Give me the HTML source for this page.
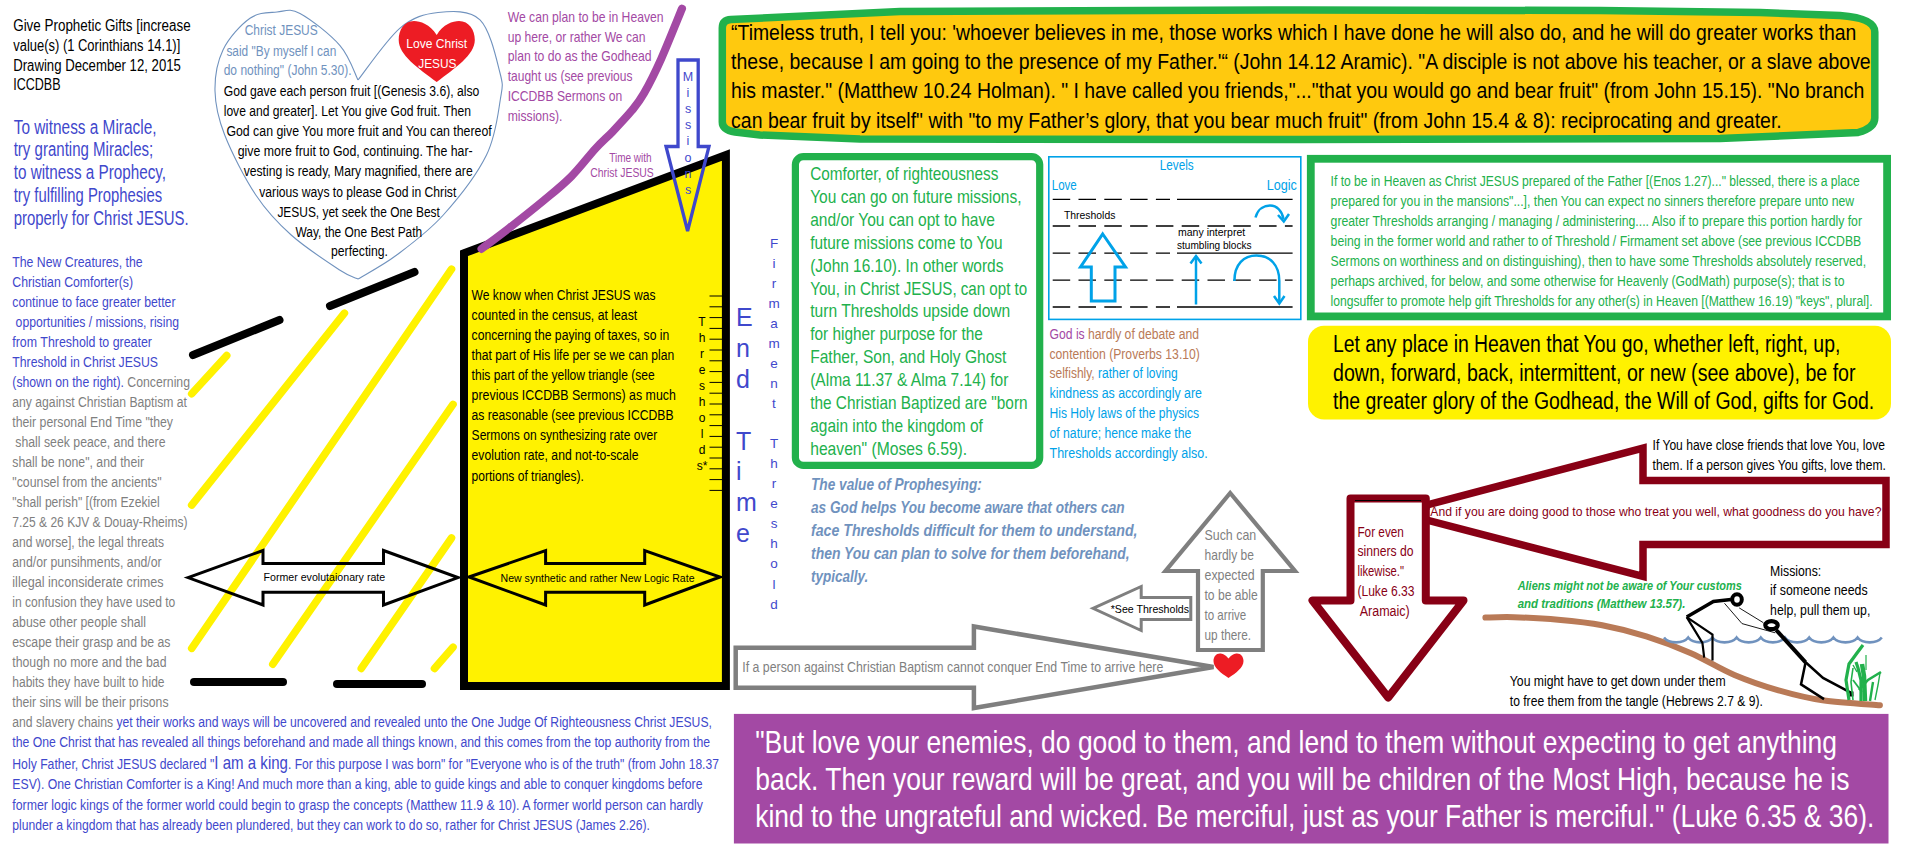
<!DOCTYPE html>
<html><head><meta charset="utf-8"><style>
html,body{margin:0;padding:0;background:#fff;width:1906px;height:868px;overflow:hidden}
text{font-family:"Liberation Sans",sans-serif}
</style></head><body>
<svg width="1906" height="868" viewBox="0 0 1906 868" style="position:absolute;left:0;top:0"><path d="M358.0,80.0 C355.0,74.3 349.7,56.7 340.0,45.6 C330.3,34.5 310.5,19.0 300.0,13.4 C289.5,7.8 285.3,11.2 277.0,12.0 C268.7,12.8 259.0,12.0 250.0,18.3 C241.0,24.6 228.8,37.9 223.0,50.0 C217.2,62.1 214.7,76.8 215.0,91.0 C215.3,105.2 217.9,117.7 224.7,135.0 C231.5,152.3 244.7,178.3 255.8,195.0 C266.9,211.7 277.2,222.5 291.2,235.0 C305.2,247.5 328.5,262.7 339.6,270.0 C350.7,277.3 354.9,277.5 358.0,279.0" fill="none" stroke="#7092be" stroke-width="1.1"/><path d="M358.0,80.0 C365.0,71.3 386.7,39.4 400.0,28.1 C413.3,16.9 424.7,13.9 438.0,12.5 C451.3,11.1 469.7,9.7 480.0,19.8 C490.3,29.9 496.6,59.8 500.0,73.0 C503.4,86.2 502.6,85.3 500.4,99.0 C498.1,112.7 496.0,135.7 486.5,155.0 C477.0,174.3 458.3,198.3 443.3,215.0 C428.3,231.7 410.9,244.3 396.7,255.0 C382.5,265.7 364.4,275.0 358.0,279.0" fill="none" stroke="#7092be" stroke-width="1.1"/><path d="M436.7,35 C430,24 420,21 414,21 C404,21 398.7,30 398.7,40 C398.7,55 418,68 436.7,82 C455,68 474.8,55 474.8,40 C474.8,30 469,21 459,21 C453,21 443,24 436.7,35 Z" fill="#ed1c24"/><line x1="191.7" y1="393.8" x2="226.7" y2="355.6" stroke="#fff200" stroke-width="7.6" stroke-linecap="round"/><line x1="191.7" y1="505.1" x2="344.4" y2="313.2" stroke="#fff200" stroke-width="7.6" stroke-linecap="round"/><line x1="191.7" y1="648.3" x2="451.5" y2="269.2" stroke="#fff200" stroke-width="7.6" stroke-linecap="round"/><line x1="272.8" y1="664.2" x2="453.0" y2="404.4" stroke="#fff200" stroke-width="7.6" stroke-linecap="round"/><line x1="361.3" y1="668.4" x2="451.5" y2="538.0" stroke="#fff200" stroke-width="7.6" stroke-linecap="round"/><line x1="434.5" y1="668.4" x2="453.0" y2="647.2" stroke="#fff200" stroke-width="7.6" stroke-linecap="round"/><line x1="193.0" y1="355.0" x2="279.5" y2="320.0" stroke="#000" stroke-width="8" stroke-linecap="round"/><line x1="330.0" y1="306.0" x2="414.5" y2="272.0" stroke="#000" stroke-width="8" stroke-linecap="round"/><line x1="194.0" y1="682.0" x2="283.0" y2="682.0" stroke="#000" stroke-width="8" stroke-linecap="round"/><line x1="337.0" y1="684.0" x2="422.0" y2="684.0" stroke="#000" stroke-width="8" stroke-linecap="round"/><path d="M464,253.3 L725.9,155 L725.9,686 L464,686 Z" fill="#fff200" stroke="#000" stroke-width="8" stroke-linejoin="miter"/><path d="M682.0,8.6 C678.5,17.0 667.5,44.7 661.2,58.8 C654.9,72.9 648.9,84.7 644.0,93.3 C639.1,101.9 637.0,104.2 631.8,110.6 C626.6,116.9 618.8,125.1 612.8,131.4 C606.8,137.7 602.4,141.1 595.5,148.6 C588.6,156.1 580.0,167.7 571.4,176.3 C562.8,185.0 554.1,191.9 543.7,200.5 C533.3,209.1 519.5,220.0 509.1,228.1 C498.7,236.2 486.1,245.4 481.5,248.9" fill="none" stroke="#a349a4" stroke-width="8" stroke-linecap="round"/><path d="M678,60 L698.2,60 L698.2,146.5 L709,146.5 L687.6,231 L666,146.5 L678,146.5 Z" fill="none" stroke="#3f48cc" stroke-width="3.3" stroke-linejoin="miter"/><line x1="709.5" y1="296.0" x2="722" y2="296.0" stroke="#000" stroke-width="1"/><line x1="709.5" y1="306.8" x2="722" y2="306.8" stroke="#000" stroke-width="1"/><line x1="709.5" y1="317.6" x2="722" y2="317.6" stroke="#000" stroke-width="1"/><line x1="709.5" y1="328.4" x2="722" y2="328.4" stroke="#000" stroke-width="1"/><line x1="709.5" y1="339.2" x2="722" y2="339.2" stroke="#000" stroke-width="1"/><line x1="709.5" y1="350.0" x2="722" y2="350.0" stroke="#000" stroke-width="1"/><line x1="709.5" y1="360.8" x2="722" y2="360.8" stroke="#000" stroke-width="1"/><line x1="709.5" y1="371.6" x2="722" y2="371.6" stroke="#000" stroke-width="1"/><line x1="709.5" y1="382.4" x2="722" y2="382.4" stroke="#000" stroke-width="1"/><line x1="709.5" y1="393.2" x2="722" y2="393.2" stroke="#000" stroke-width="1"/><line x1="709.5" y1="404.0" x2="722" y2="404.0" stroke="#000" stroke-width="1"/><line x1="709.5" y1="414.8" x2="722" y2="414.8" stroke="#000" stroke-width="1"/><line x1="709.5" y1="425.6" x2="722" y2="425.6" stroke="#000" stroke-width="1"/><line x1="709.5" y1="436.4" x2="722" y2="436.4" stroke="#000" stroke-width="1"/><line x1="709.5" y1="447.2" x2="722" y2="447.2" stroke="#000" stroke-width="1"/><line x1="709.5" y1="458.0" x2="722" y2="458.0" stroke="#000" stroke-width="1"/><line x1="709.5" y1="468.8" x2="722" y2="468.8" stroke="#000" stroke-width="1"/><line x1="709.5" y1="479.6" x2="722" y2="479.6" stroke="#000" stroke-width="1"/><line x1="709.5" y1="490.4" x2="722" y2="490.4" stroke="#000" stroke-width="1"/><path d="M188.0,577.6 L263.0,550.5 L263.0,563.5 L383.5,563.5 L383.5,550.5 L458.0,577.6 L383.5,605.0 L383.5,592.3 L263.0,592.3 L263.0,605.0 Z" fill="none" stroke="#000" stroke-width="3" stroke-linejoin="miter"/><path d="M469.0,577.0 L545.6,550.5 L545.6,563.5 L644.7,563.5 L644.7,550.5 L720.0,577.0 L644.7,605.0 L644.7,592.3 L545.6,592.3 L545.6,605.0 Z" fill="none" stroke="#000" stroke-width="3" stroke-linejoin="miter"/><path d="M722.3,28 Q722.3,20 731,19.5 L900,11.5 L1300,10 L1600,10.5 L1760,12.5 L1840,15.5 Q1874.8,18 1874.8,32 L1874.8,118 Q1874.8,128 1858,132.5 L1720,138.5 L1300,139.5 L860,139 L760,135 L735,132 Q722.3,130 722.3,122 Z" fill="#ffc90e" stroke="#22b14c" stroke-width="7.5"/><rect x="795.4" y="156.6" width="244.3" height="308.8" rx="8" fill="#fff" stroke="#22b14c" stroke-width="7.2"/><rect x="1048.8" y="156.8" width="252" height="162.6" fill="none" stroke="#00a2e8" stroke-width="1.6"/><line x1="1052.7" y1="199.3" x2="1170" y2="199.3" stroke="#000" stroke-width="1.3" stroke-dasharray="17.5 8.3"/><line x1="1177" y1="199.3" x2="1292.6" y2="199.3" stroke="#000" stroke-width="1.3"/><line x1="1052.7" y1="226.0" x2="1292.6" y2="226.0" stroke="#000" stroke-width="1.3" stroke-dasharray="17.5 8.3"/><line x1="1052.7" y1="253.2" x2="1170" y2="253.2" stroke="#000" stroke-width="1.3" stroke-dasharray="17.5 8.3"/><line x1="1177" y1="253.2" x2="1292.6" y2="253.2" stroke="#000" stroke-width="1.3"/><line x1="1052.7" y1="280.2" x2="1292.6" y2="280.2" stroke="#000" stroke-width="1.3" stroke-dasharray="17.5 8.3"/><line x1="1052.7" y1="307.0" x2="1170" y2="307.0" stroke="#000" stroke-width="1.3" stroke-dasharray="17.5 8.3"/><line x1="1177" y1="307.0" x2="1292.6" y2="307.0" stroke="#000" stroke-width="1.3"/><path d="M1102.7,234 L1125.5,267 L1115,267 L1115,301 L1091.3,301 L1091.3,267 L1080.5,267 Z" fill="none" stroke="#00a2e8" stroke-width="3"/><line x1="1196" y1="304.5" x2="1196" y2="257" stroke="#00a2e8" stroke-width="2.5"/><path d="M1190.5,263.5 L1196,256 L1201.5,263.5" fill="none" stroke="#00a2e8" stroke-width="2.5"/><path d="M1255.5,217.5 C1258,208 1265,205.5 1270,205.5 C1277,205.5 1282,211 1283.5,219" fill="none" stroke="#00a2e8" stroke-width="2.5"/><path d="M1278,215 L1283.8,221.5 L1289,214" fill="none" stroke="#00a2e8" stroke-width="2.5"/><path d="M1234.4,281 C1234.4,264 1244,255.5 1256.5,255.5 C1270,255.5 1279.3,265 1279.3,281 L1279.3,302" fill="none" stroke="#00a2e8" stroke-width="2.5"/><path d="M1274,296 L1279.3,303.5 L1284.5,296" fill="none" stroke="#00a2e8" stroke-width="2.5"/><rect x="1310.8" y="158.8" width="576.3" height="157.6" fill="#fff" stroke="#22b14c" stroke-width="7.8"/><rect x="1308" y="325.8" width="583" height="93.6" rx="16" fill="#fff200"/><path d="M735.7,647.8 L973.9,647.8 L973.9,626.5 L1213.5,667 L973.9,708 L973.9,687.7 L735.7,687.7 Z" fill="none" stroke="#7f7f7f" stroke-width="4.5" stroke-linejoin="miter"/><path d="M1230.2,493 L1295,571 L1262.8,571 L1262.8,650 L1198,650 L1198,571 L1165.5,571 Z" fill="none" stroke="#7f7f7f" stroke-width="4.2" stroke-linejoin="miter"/><path d="M1093,608.3 L1141.2,586.5 L1141.2,597.5 L1190.8,597.5 L1190.8,619.5 L1141.2,619.5 L1141.2,630.5 Z" fill="none" stroke="#7f7f7f" stroke-width="3" stroke-linejoin="miter"/><path d="M1228.5,658.5 C1225.5,654.5 1222,653.5 1220,653.5 C1216,653.5 1213.5,657 1213.5,661 C1213.5,667.5 1221,673 1228.5,678 C1236,673 1243.5,667.5 1243.5,661 C1243.5,657 1241,653.5 1237,653.5 C1235,653.5 1231.5,654.5 1228.5,658.5 Z" fill="#ed1c24"/><path d="M1398,512.6 L1643,448 L1643,480.5 L1886,480.5 L1886,544.5 L1643,544.5 L1643,576.5 Z" fill="none" stroke="#880015" stroke-width="7.5" stroke-linejoin="miter"/><path d="M1350.5,498.5 L1425.8,498.5 L1425.8,600.5 L1463.5,600.5 L1388.2,697.5 L1312.5,600.5 L1350.5,600.5 Z" fill="#fff" stroke="#880015" stroke-width="8" stroke-linejoin="round"/><line x1="1355" y1="500.5" x2="1421" y2="500.5" stroke="#000" stroke-width="1"/><path d="M1485.4,617.6 C1490.2,617.5 1501.9,616.8 1514.0,617.2 C1526.1,617.6 1543.4,618.4 1558.1,619.8 C1572.8,621.1 1587.5,622.5 1602.2,625.3 C1616.9,628.1 1631.6,631.8 1646.3,636.4 C1661.0,641.0 1675.7,646.5 1690.4,652.9 C1705.1,659.3 1719.7,668.7 1734.4,674.9 C1749.1,681.1 1763.8,686.1 1778.5,690.3 C1793.2,694.5 1805.7,697.8 1822.6,700.3 C1839.5,702.8 1870.4,704.5 1879.9,705.3" fill="none" stroke="#b97a57" stroke-width="6" stroke-linecap="round"/><path d="M1664,637.5 C1669.0,644 1683.2,644 1688.2,637.5 C1693.2,644 1707.4,644 1712.4,637.5 C1717.4,644 1731.6,644 1736.6,637.5 C1741.6,644 1755.8,644 1760.8,637.5 C1765.8,644 1780.0,644 1785.0,637.5 C1790.0,644 1804.2,644 1809.2,637.5 C1814.2,644 1828.4,644 1833.4,637.5 C1838.4,644 1852.6,644 1857.6,637.5 C1862.6,644 1876.8,644 1881.8,637.5" fill="none" stroke="#7092be" stroke-width="2.6"/><ellipse cx="1737" cy="599.5" rx="4.8" ry="5.2" fill="none" stroke="#000" stroke-width="4"/><polyline points="1731,599.6 1713.4,601.5 1686.7,617.1" fill="none" stroke="#000" stroke-width="3.5"/><polyline points="1686.7,617.1 1702.4,642.9 1704.2,657.7" fill="none" stroke="#000" stroke-width="2.2"/><polyline points="1686.7,617.1 1712.5,634.6 1712.5,660.4" fill="none" stroke="#000" stroke-width="2.2"/><polyline points="1724.5,603.3 1742,623.6 1775.2,632.8" fill="none" stroke="#000" stroke-width="0.9"/><polyline points="1739.2,607.9 1763.2,622.6" fill="none" stroke="#000" stroke-width="0.9"/><ellipse cx="1771.5" cy="625.2" rx="6.2" ry="4" fill="none" stroke="#000" stroke-width="4.2"/><polyline points="1776.1,630 1805.6,662.3" fill="none" stroke="#000" stroke-width="4"/><polyline points="1805.6,662.3 1823,677.9 1850.7,692.7" fill="none" stroke="#000" stroke-width="2.5"/><polyline points="1805.6,662.3 1801,684.4 1824,699.1" fill="none" stroke="#000" stroke-width="2.5"/><rect x="1849.5" y="691.5" width="4" height="5" fill="#000"/><polyline points="1849,700 1846,680 1849,664 1857,653 1863,645" fill="none" stroke="#22b14c" stroke-width="3.2"/><polyline points="1853,700 1851,682 1853,668" fill="none" stroke="#22b14c" stroke-width="1.6"/><polyline points="1861,701 1861,680 1858,668 1856,662" fill="none" stroke="#22b14c" stroke-width="3.2"/><polyline points="1865,701 1864,676 1862,664" fill="none" stroke="#22b14c" stroke-width="4.5"/><polyline points="1859,690 1868,680 1881,672" fill="none" stroke="#22b14c" stroke-width="2.6"/><polyline points="1870,701 1873,682" fill="none" stroke="#22b14c" stroke-width="2.4"/><polyline points="1875,700 1878,685 1880,673" fill="none" stroke="#22b14c" stroke-width="1.4"/><polyline points="1862,692 1853,680" fill="none" stroke="#22b14c" stroke-width="1.8"/><polyline points="1866,670 1866,655" fill="none" stroke="#22b14c" stroke-width="1.2"/><polyline points="1857,672 1853,665" fill="none" stroke="#22b14c" stroke-width="1.4"/><rect x="733.9" y="713.9" width="1154.6" height="129.6" fill="#a349a4"/><g font-family="Liberation Sans, sans-serif"><text x="13.2" y="30.5" font-size="15.60" fill="#000" textLength="177.5" lengthAdjust="spacingAndGlyphs">Give Prophetic Gifts [increase</text><text x="13.2" y="50.6" font-size="15.60" fill="#000" textLength="167.1" lengthAdjust="spacingAndGlyphs">value(s) (1 Corinthians 14.1)]</text><text x="13.2" y="70.5" font-size="15.60" fill="#000" textLength="167.7" lengthAdjust="spacingAndGlyphs">Drawing December 12, 2015</text><text x="13.2" y="90.4" font-size="15.60" fill="#000" textLength="47.3" lengthAdjust="spacingAndGlyphs">ICCDBB</text><text x="13.7" y="133.5" font-size="19.50" fill="#3f48cc" textLength="142.8" lengthAdjust="spacingAndGlyphs">To witness a Miracle,</text><text x="13.7" y="156.4" font-size="19.50" fill="#3f48cc" textLength="139.5" lengthAdjust="spacingAndGlyphs">try granting Miracles;</text><text x="13.7" y="179.3" font-size="19.50" fill="#3f48cc" textLength="152.4" lengthAdjust="spacingAndGlyphs">to witness a Prophecy,</text><text x="13.7" y="202.2" font-size="19.50" fill="#3f48cc" textLength="148.4" lengthAdjust="spacingAndGlyphs">try fulfilling Prophesies</text><text x="13.7" y="225.1" font-size="19.50" fill="#3f48cc" textLength="175.0" lengthAdjust="spacingAndGlyphs">properly for Christ JESUS.</text><text x="12.3" y="266.6" font-size="15.10" fill="#3f48cc" textLength="130.3" lengthAdjust="spacingAndGlyphs">The New Creatures, the</text><text x="12.3" y="286.6" font-size="15.10" fill="#3f48cc" textLength="120.7" lengthAdjust="spacingAndGlyphs">Christian Comforter(s)</text><text x="12.3" y="306.6" font-size="15.10" fill="#3f48cc" textLength="163.2" lengthAdjust="spacingAndGlyphs">continue to face greater better</text><text x="15.6" y="326.6" font-size="15.10" fill="#3f48cc" textLength="163.4" lengthAdjust="spacingAndGlyphs">opportunities / missions, rising</text><text x="12.3" y="346.6" font-size="15.10" fill="#3f48cc" textLength="139.7" lengthAdjust="spacingAndGlyphs">from Threshold to greater</text><text x="12.3" y="366.6" font-size="15.10" fill="#3f48cc" textLength="145.7" lengthAdjust="spacingAndGlyphs">Threshold in Christ JESUS</text><text x="12.3" y="386.6" font-size="15.10" textLength="177.7" lengthAdjust="spacingAndGlyphs"><tspan fill="#3f48cc">(shown on the right). </tspan><tspan fill="#7f7f7f">Concerning</tspan></text><text x="12.3" y="406.6" font-size="15.10" fill="#7f7f7f" textLength="174.7" lengthAdjust="spacingAndGlyphs">any against Christian Baptism at</text><text x="12.3" y="426.6" font-size="15.10" fill="#7f7f7f" textLength="160.7" lengthAdjust="spacingAndGlyphs">their personal End Time "they</text><text x="15.3" y="446.6" font-size="15.10" fill="#7f7f7f" textLength="150.2" lengthAdjust="spacingAndGlyphs">shall seek peace, and there</text><text x="12.3" y="466.6" font-size="15.10" fill="#7f7f7f" textLength="131.7" lengthAdjust="spacingAndGlyphs">shall be none", and their</text><text x="12.3" y="486.6" font-size="15.10" fill="#7f7f7f" textLength="149.3" lengthAdjust="spacingAndGlyphs">"counsel from the ancients"</text><text x="12.3" y="506.6" font-size="15.10" fill="#7f7f7f" textLength="147.3" lengthAdjust="spacingAndGlyphs">"shall perish" [(from Ezekiel</text><text x="12.3" y="526.6" font-size="15.10" fill="#7f7f7f" textLength="175.2" lengthAdjust="spacingAndGlyphs">7.25 &amp; 26 KJV &amp; Douay-Rheims)</text><text x="12.3" y="546.6" font-size="15.10" fill="#7f7f7f" textLength="151.7" lengthAdjust="spacingAndGlyphs">and worse], the legal threats</text><text x="12.3" y="566.6" font-size="15.10" fill="#7f7f7f" textLength="149.3" lengthAdjust="spacingAndGlyphs">and/or punsihments, and/or</text><text x="12.3" y="586.6" font-size="15.10" fill="#7f7f7f" textLength="151.3" lengthAdjust="spacingAndGlyphs">illegal inconsiderate crimes</text><text x="12.3" y="606.6" font-size="15.10" fill="#7f7f7f" textLength="163.0" lengthAdjust="spacingAndGlyphs">in confusion they have used to</text><text x="12.3" y="626.6" font-size="15.10" fill="#7f7f7f" textLength="133.7" lengthAdjust="spacingAndGlyphs">abuse other people shall</text><text x="12.3" y="646.6" font-size="15.10" fill="#7f7f7f" textLength="158.1" lengthAdjust="spacingAndGlyphs">escape their grasp and be as</text><text x="12.3" y="666.6" font-size="15.10" fill="#7f7f7f" textLength="154.2" lengthAdjust="spacingAndGlyphs">though no more and the bad</text><text x="12.3" y="686.6" font-size="15.10" fill="#7f7f7f" textLength="152.2" lengthAdjust="spacingAndGlyphs">habits they have built to hide</text><text x="12.3" y="706.6" font-size="15.10" fill="#7f7f7f" textLength="156.2" lengthAdjust="spacingAndGlyphs">their sins will be their prisons</text><text x="12.3" y="726.7" font-size="15.10" textLength="699.6" lengthAdjust="spacingAndGlyphs"><tspan fill="#7f7f7f">and slavery chains </tspan><tspan fill="#3f48cc">yet their works and ways will be uncovered and revealed unto the One Judge Of Righteousness Christ JESUS,</tspan></text><text x="12.3" y="746.8" font-size="15.10" fill="#3f48cc" textLength="697.7" lengthAdjust="spacingAndGlyphs">the One Christ that has revealed all things beforehand and made all things known, and this comes from the top authority from the</text><text x="12.3" y="769.2" font-size="15.10" fill="#3f48cc" textLength="202.0" lengthAdjust="spacingAndGlyphs">Holy Father, Christ JESUS declared "</text><text x="214.3" y="769.2" font-size="19.00" fill="#3f48cc" textLength="73.7" lengthAdjust="spacingAndGlyphs">I am a king</text><text x="288.0" y="769.2" font-size="15.10" fill="#3f48cc" textLength="430.9" lengthAdjust="spacingAndGlyphs">. For this purpose I was born" for "Everyone who is of the truth" (from John 18.37</text><text x="12.3" y="789.4" font-size="15.10" fill="#3f48cc" textLength="690.2" lengthAdjust="spacingAndGlyphs">ESV). One Christian Comforter is a King! And much more than a king, able to guide kings and able to conquer kingdoms before</text><text x="12.3" y="809.5" font-size="15.10" fill="#3f48cc" textLength="690.7" lengthAdjust="spacingAndGlyphs">former logic kings of the former world could begin to grasp the concepts (Matthew 11.9 &amp; 10). A former world person can hardly</text><text x="12.3" y="829.6" font-size="15.10" fill="#3f48cc" textLength="637.7" lengthAdjust="spacingAndGlyphs">plunder a kingdom that has already been plundered, but they can work to do so, rather for Christ JESUS (James 2.26).</text><text x="244.7" y="35.3" font-size="14.00" fill="#7092be" textLength="73.0" lengthAdjust="spacingAndGlyphs">Christ JESUS</text><text x="226.4" y="55.5" font-size="14.00" fill="#7092be" textLength="109.9" lengthAdjust="spacingAndGlyphs">said "By myself I can</text><text x="223.7" y="75.3" font-size="14.00" fill="#7092be" textLength="127.8" lengthAdjust="spacingAndGlyphs">do nothing" (John 5.30).</text><text x="406.3" y="48.4" font-size="13.50" fill="#fff" textLength="60.9" lengthAdjust="spacingAndGlyphs">Love Christ</text><text x="418.2" y="67.7" font-size="13.50" fill="#fff" textLength="38.3" lengthAdjust="spacingAndGlyphs">JESUS</text><text x="223.7" y="96.1" font-size="14.00" fill="#000" textLength="255.6" lengthAdjust="spacingAndGlyphs">God gave each person fruit [(Genesis 3.6), also</text><text x="223.7" y="115.9" font-size="14.00" fill="#000" textLength="247.3" lengthAdjust="spacingAndGlyphs">love and greater]. Let You give God fruit. Then</text><text x="226.4" y="136.2" font-size="14.00" fill="#000" textLength="265.3" lengthAdjust="spacingAndGlyphs">God can give You more fruit and You can thereof</text><text x="237.7" y="156.4" font-size="14.00" fill="#000" textLength="235.0" lengthAdjust="spacingAndGlyphs">give more fruit to God, continuing. The har-</text><text x="243.7" y="176.3" font-size="14.00" fill="#000" textLength="229.0" lengthAdjust="spacingAndGlyphs">vesting is ready, Mary magnified, there are</text><text x="259.3" y="196.5" font-size="14.00" fill="#000" textLength="197.0" lengthAdjust="spacingAndGlyphs">various ways to please God in Christ</text><text x="277.4" y="216.6" font-size="14.00" fill="#000" textLength="162.5" lengthAdjust="spacingAndGlyphs">JESUS, yet seek the One Best</text><text x="295.5" y="236.5" font-size="14.00" fill="#000" textLength="126.7" lengthAdjust="spacingAndGlyphs">Way, the One Best Path</text><text x="331.0" y="256.2" font-size="14.00" fill="#000" textLength="57.0" lengthAdjust="spacingAndGlyphs">perfecting.</text><text x="507.7" y="21.7" font-size="14.10" fill="#a349a4" textLength="155.8" lengthAdjust="spacingAndGlyphs">We can plan to be in Heaven</text><text x="507.7" y="41.6" font-size="14.10" fill="#a349a4" textLength="137.8" lengthAdjust="spacingAndGlyphs">up here, or rather We can</text><text x="507.7" y="61.4" font-size="14.10" fill="#a349a4" textLength="143.8" lengthAdjust="spacingAndGlyphs">plan to do as the Godhead</text><text x="507.7" y="81.3" font-size="14.10" fill="#a349a4" textLength="124.8" lengthAdjust="spacingAndGlyphs">taught us (see previous</text><text x="507.7" y="101.1" font-size="14.10" fill="#a349a4" textLength="114.6" lengthAdjust="spacingAndGlyphs">ICCDBB Sermons on</text><text x="507.7" y="121.0" font-size="14.10" fill="#a349a4" textLength="54.7" lengthAdjust="spacingAndGlyphs">missions).</text><text x="609.2" y="161.8" font-size="12.20" fill="#a349a4" textLength="42.4" lengthAdjust="spacingAndGlyphs">Time with</text><text x="590.2" y="177.4" font-size="12.20" fill="#a349a4" textLength="63.6" lengthAdjust="spacingAndGlyphs">Christ JESUS</text><text x="688" y="80.8" font-size="12.5" fill="#3f48cc" text-anchor="middle">M</text><text x="688" y="96.9" font-size="12.5" fill="#3f48cc" text-anchor="middle">i</text><text x="688" y="113.1" font-size="12.5" fill="#3f48cc" text-anchor="middle">s</text><text x="688" y="129.2" font-size="12.5" fill="#3f48cc" text-anchor="middle">s</text><text x="688" y="145.4" font-size="12.5" fill="#3f48cc" text-anchor="middle">i</text><text x="688" y="161.6" font-size="12.5" fill="#3f48cc" text-anchor="middle">o</text><text x="688" y="177.7" font-size="12.5" fill="#3f48cc" text-anchor="middle">n</text><text x="688" y="193.8" font-size="12.5" fill="#3f48cc" text-anchor="middle">s</text><text x="471.6" y="300.2" font-size="14.00" fill="#000" textLength="183.9" lengthAdjust="spacingAndGlyphs">We know when Christ JESUS was</text><text x="471.6" y="320.2" font-size="14.00" fill="#000" textLength="165.6" lengthAdjust="spacingAndGlyphs">counted in the census, at least</text><text x="471.6" y="340.3" font-size="14.00" fill="#000" textLength="197.7" lengthAdjust="spacingAndGlyphs">concerning the paying of taxes, so in</text><text x="471.6" y="360.3" font-size="14.00" fill="#000" textLength="202.6" lengthAdjust="spacingAndGlyphs">that part of His life per se we can plan</text><text x="471.6" y="380.3" font-size="14.00" fill="#000" textLength="183.2" lengthAdjust="spacingAndGlyphs">this part of the yellow triangle (see</text><text x="471.6" y="400.4" font-size="14.00" fill="#000" textLength="204.3" lengthAdjust="spacingAndGlyphs">previous ICCDBB Sermons)  as much</text><text x="471.6" y="420.4" font-size="14.00" fill="#000" textLength="201.9" lengthAdjust="spacingAndGlyphs">as reasonable (see previous ICCDBB</text><text x="471.6" y="440.4" font-size="14.00" fill="#000" textLength="185.6" lengthAdjust="spacingAndGlyphs">Sermons on synthesizing rate over</text><text x="471.6" y="460.4" font-size="14.00" fill="#000" textLength="167.0" lengthAdjust="spacingAndGlyphs">evolution rate, and not-to-scale</text><text x="471.6" y="480.5" font-size="14.00" fill="#000" textLength="112.3" lengthAdjust="spacingAndGlyphs">portions of triangles).</text><text x="702" y="326.0" font-size="12" fill="#000" text-anchor="middle">T</text><text x="702" y="341.9" font-size="12" fill="#000" text-anchor="middle">h</text><text x="702" y="357.9" font-size="12" fill="#000" text-anchor="middle">r</text><text x="702" y="373.9" font-size="12" fill="#000" text-anchor="middle">e</text><text x="702" y="389.8" font-size="12" fill="#000" text-anchor="middle">s</text><text x="702" y="405.8" font-size="12" fill="#000" text-anchor="middle">h</text><text x="702" y="421.7" font-size="12" fill="#000" text-anchor="middle">o</text><text x="702" y="437.6" font-size="12" fill="#000" text-anchor="middle">l</text><text x="702" y="453.6" font-size="12" fill="#000" text-anchor="middle">d</text><text x="702" y="469.5" font-size="12" fill="#000" text-anchor="middle">s*</text><text x="736" y="325.8" font-size="25" fill="#3f48cc">E</text><text x="736" y="357.0" font-size="25" fill="#3f48cc">n</text><text x="736" y="387.7" font-size="25" fill="#3f48cc">d</text><text x="736" y="449.9" font-size="25" fill="#3f48cc">T</text><text x="736" y="480.4" font-size="25" fill="#3f48cc">i</text><text x="736" y="511.3" font-size="25" fill="#3f48cc">m</text><text x="736" y="542.0" font-size="25" fill="#3f48cc">e</text><text x="774" y="247.6" font-size="13.5" fill="#3f48cc" text-anchor="middle">F</text><text x="774" y="267.6" font-size="13.5" fill="#3f48cc" text-anchor="middle">i</text><text x="774" y="287.7" font-size="13.5" fill="#3f48cc" text-anchor="middle">r</text><text x="774" y="307.8" font-size="13.5" fill="#3f48cc" text-anchor="middle">m</text><text x="774" y="327.8" font-size="13.5" fill="#3f48cc" text-anchor="middle">a</text><text x="774" y="347.9" font-size="13.5" fill="#3f48cc" text-anchor="middle">m</text><text x="774" y="367.9" font-size="13.5" fill="#3f48cc" text-anchor="middle">e</text><text x="774" y="387.9" font-size="13.5" fill="#3f48cc" text-anchor="middle">n</text><text x="774" y="408.0" font-size="13.5" fill="#3f48cc" text-anchor="middle">t</text><text x="774" y="448.1" font-size="13.5" fill="#3f48cc" text-anchor="middle">T</text><text x="774" y="468.1" font-size="13.5" fill="#3f48cc" text-anchor="middle">h</text><text x="774" y="488.2" font-size="13.5" fill="#3f48cc" text-anchor="middle">r</text><text x="774" y="508.2" font-size="13.5" fill="#3f48cc" text-anchor="middle">e</text><text x="774" y="528.3" font-size="13.5" fill="#3f48cc" text-anchor="middle">s</text><text x="774" y="548.4" font-size="13.5" fill="#3f48cc" text-anchor="middle">h</text><text x="774" y="568.4" font-size="13.5" fill="#3f48cc" text-anchor="middle">o</text><text x="774" y="588.5" font-size="13.5" fill="#3f48cc" text-anchor="middle">l</text><text x="774" y="608.5" font-size="13.5" fill="#3f48cc" text-anchor="middle">d</text><text x="263.5" y="581.3" font-size="11.20" fill="#000" textLength="121.7" lengthAdjust="spacingAndGlyphs">Former evolutaionary rate</text><text x="500.6" y="582.0" font-size="11.20" fill="#000" textLength="193.9" lengthAdjust="spacingAndGlyphs">New synthetic and rather New Logic Rate</text><text x="731.1" y="40.0" font-size="21.30" fill="#000" textLength="1125.3" lengthAdjust="spacingAndGlyphs">“Timeless truth, I tell you: 'whoever believes in me, those works which I have done he will also do, and he will do greater works than</text><text x="731.1" y="69.2" font-size="21.30" fill="#000" textLength="1139.6" lengthAdjust="spacingAndGlyphs">these, because I am going to the presence of my Father.'“ (John 14.12 Aramic). "A disciple is not above his teacher, or a slave above</text><text x="731.1" y="98.2" font-size="21.30" fill="#000" textLength="1133.3" lengthAdjust="spacingAndGlyphs">his master." (Matthew 10.24 Holman). " I have called you friends,"..."that you would go and bear fruit" (from John 15.15). "No branch</text><text x="731.1" y="128.0" font-size="21.30" fill="#000" textLength="1050.6" lengthAdjust="spacingAndGlyphs">can bear fruit by itself" with "to my Father’s glory, that you bear much fruit" (from John 15.4 &amp; 8): reciprocating and greater.</text><text x="810.2" y="179.8" font-size="17.90" fill="#22b14c" textLength="188.1" lengthAdjust="spacingAndGlyphs">Comforter, of righteousness</text><text x="810.2" y="202.7" font-size="17.90" fill="#22b14c" textLength="211.3" lengthAdjust="spacingAndGlyphs">You can go on future missions,</text><text x="810.2" y="225.7" font-size="17.90" fill="#22b14c" textLength="184.7" lengthAdjust="spacingAndGlyphs">and/or You can opt to have</text><text x="810.2" y="248.6" font-size="17.90" fill="#22b14c" textLength="192.3" lengthAdjust="spacingAndGlyphs">future missions come to You</text><text x="810.2" y="271.6" font-size="17.90" fill="#22b14c" textLength="193.2" lengthAdjust="spacingAndGlyphs">(John 16.10). In other words</text><text x="810.2" y="294.5" font-size="17.90" fill="#22b14c" textLength="217.0" lengthAdjust="spacingAndGlyphs">You, in Christ JESUS, can opt to</text><text x="810.2" y="317.4" font-size="17.90" fill="#22b14c" textLength="200.1" lengthAdjust="spacingAndGlyphs">turn Thresholds upside down</text><text x="810.2" y="340.4" font-size="17.90" fill="#22b14c" textLength="172.7" lengthAdjust="spacingAndGlyphs">for higher purpose for the</text><text x="810.2" y="363.3" font-size="17.90" fill="#22b14c" textLength="196.2" lengthAdjust="spacingAndGlyphs">Father, Son, and Holy Ghost</text><text x="810.2" y="386.3" font-size="17.90" fill="#22b14c" textLength="198.2" lengthAdjust="spacingAndGlyphs">(Alma 11.37 &amp; Alma 7.14) for</text><text x="810.2" y="409.2" font-size="17.90" fill="#22b14c" textLength="217.4" lengthAdjust="spacingAndGlyphs">the Christian Baptized are "born</text><text x="810.2" y="432.1" font-size="17.90" fill="#22b14c" textLength="172.7" lengthAdjust="spacingAndGlyphs">again into the kingdom of</text><text x="810.2" y="455.1" font-size="17.90" fill="#22b14c" textLength="157.0" lengthAdjust="spacingAndGlyphs">heaven" (Moses 6.59).</text><text x="1159.8" y="169.8" font-size="15.00" fill="#00a2e8" textLength="33.9" lengthAdjust="spacingAndGlyphs">Levels</text><text x="1051.7" y="190.0" font-size="15.00" fill="#00a2e8" textLength="25.1" lengthAdjust="spacingAndGlyphs">Love</text><text x="1266.7" y="190.0" font-size="15.00" fill="#00a2e8" textLength="30.2" lengthAdjust="spacingAndGlyphs">Logic</text><text x="1063.9" y="218.5" font-size="11.20" fill="#000" textLength="51.5" lengthAdjust="spacingAndGlyphs">Thresholds</text><text x="1178.0" y="236.2" font-size="11.20" fill="#000" textLength="67.2" lengthAdjust="spacingAndGlyphs">many interpret</text><text x="1177.0" y="248.9" font-size="11.20" fill="#000" textLength="74.5" lengthAdjust="spacingAndGlyphs">stumbling blocks</text><text x="1049.5" y="338.8" font-size="15.40" textLength="149.6" lengthAdjust="spacingAndGlyphs"><tspan fill="#a349a4">God is </tspan><tspan fill="#b97a57">hardly of debate and</tspan></text><text x="1049.5" y="358.6" font-size="15.40" fill="#b97a57" textLength="150.4" lengthAdjust="spacingAndGlyphs">contention (Proverbs 13.10)</text><text x="1049.5" y="378.4" font-size="15.40" textLength="128.1" lengthAdjust="spacingAndGlyphs"><tspan fill="#b97a57">selfishly, </tspan><tspan fill="#00a2e8">rather of loving</tspan></text><text x="1049.5" y="398.2" font-size="15.40" fill="#00a2e8" textLength="152.4" lengthAdjust="spacingAndGlyphs">kindness as accordingly are</text><text x="1049.5" y="418.0" font-size="15.40" fill="#00a2e8" textLength="149.6" lengthAdjust="spacingAndGlyphs">His Holy laws of the physics</text><text x="1049.5" y="437.8" font-size="15.40" fill="#00a2e8" textLength="141.8" lengthAdjust="spacingAndGlyphs">of nature; hence make the</text><text x="1049.5" y="457.6" font-size="15.40" fill="#00a2e8" textLength="158.2" lengthAdjust="spacingAndGlyphs">Thresholds accordingly also.</text><text x="1330.6" y="185.5" font-size="14.70" fill="#22b14c" textLength="529.1" lengthAdjust="spacingAndGlyphs">If to be in Heaven as Christ JESUS prepared of the Father [(Enos 1.27)..." blessed, there is a place</text><text x="1330.6" y="205.5" font-size="14.70" fill="#22b14c" textLength="523.6" lengthAdjust="spacingAndGlyphs">prepared for you in the mansions"...], then You can expect no sinners therefore prepare unto new</text><text x="1330.6" y="225.5" font-size="14.70" fill="#22b14c" textLength="531.4" lengthAdjust="spacingAndGlyphs">greater Thresholds arranging / managing / administering.... Also if to prepare this portion hardly for</text><text x="1330.6" y="245.5" font-size="14.70" fill="#22b14c" textLength="530.7" lengthAdjust="spacingAndGlyphs">being in the former world and rather to of Threshold / Firmament set above (see previous ICCDBB</text><text x="1330.6" y="265.5" font-size="14.70" fill="#22b14c" textLength="535.5" lengthAdjust="spacingAndGlyphs">Sermons on worthiness and on distinguishing), then to have some Thresholds absolutely reserved,</text><text x="1330.6" y="285.5" font-size="14.70" fill="#22b14c" textLength="513.9" lengthAdjust="spacingAndGlyphs">perhaps archived, for below, and some otherwise for Heavenly (GodMath) purpose(s); that is to</text><text x="1330.6" y="305.5" font-size="14.70" fill="#22b14c" textLength="542.0" lengthAdjust="spacingAndGlyphs">longsuffer to promote help gift Thresholds for any other(s) in Heaven [(Matthew 16.19) "keys", plural].</text><text x="1333.0" y="351.8" font-size="23.00" fill="#000" textLength="507.3" lengthAdjust="spacingAndGlyphs">Let any place in Heaven that You go, whether left, right, up,</text><text x="1333.0" y="380.6" font-size="23.00" fill="#000" textLength="522.5" lengthAdjust="spacingAndGlyphs">down, forward, back, intermittent, or new (see above), be for</text><text x="1333.0" y="409.4" font-size="23.00" fill="#000" textLength="541.2" lengthAdjust="spacingAndGlyphs">the greater glory of the Godhead, the Will of God, gifts for God.</text><text x="811.0" y="490.2" font-size="16.50" fill="#7092be" font-weight="bold" font-style="italic" textLength="170.8" lengthAdjust="spacingAndGlyphs">The value of Prophesying:</text><text x="811.0" y="513.0" font-size="16.50" fill="#7092be" font-weight="bold" font-style="italic" textLength="313.6" lengthAdjust="spacingAndGlyphs">as God helps You become aware that others can</text><text x="811.0" y="535.9" font-size="16.50" fill="#7092be" font-weight="bold" font-style="italic" textLength="326.5" lengthAdjust="spacingAndGlyphs">face Thresholds difficult for them to understand,</text><text x="811.0" y="558.8" font-size="16.50" fill="#7092be" font-weight="bold" font-style="italic" textLength="318.6" lengthAdjust="spacingAndGlyphs">then You can plan to solve for them beforehand,</text><text x="811.0" y="581.6" font-size="16.50" fill="#7092be" font-weight="bold" font-style="italic" textLength="57.3" lengthAdjust="spacingAndGlyphs">typically.</text><text x="1204.5" y="539.6" font-size="14.60" fill="#7f7f7f" textLength="51.7" lengthAdjust="spacingAndGlyphs">Such can</text><text x="1204.5" y="559.7" font-size="14.60" fill="#7f7f7f" textLength="49.5" lengthAdjust="spacingAndGlyphs">hardly be</text><text x="1204.5" y="579.8" font-size="14.60" fill="#7f7f7f" textLength="50.2" lengthAdjust="spacingAndGlyphs">expected</text><text x="1204.5" y="599.9" font-size="14.60" fill="#7f7f7f" textLength="53.3" lengthAdjust="spacingAndGlyphs">to be able</text><text x="1204.5" y="620.0" font-size="14.60" fill="#7f7f7f" textLength="41.8" lengthAdjust="spacingAndGlyphs">to arrive</text><text x="1204.5" y="640.1" font-size="14.60" fill="#7f7f7f" textLength="46.5" lengthAdjust="spacingAndGlyphs">up there.</text><text x="1110.7" y="612.6" font-size="11.50" fill="#000" textLength="78.3" lengthAdjust="spacingAndGlyphs">*See Thresholds</text><text x="742.3" y="671.5" font-size="13.80" fill="#7f7f7f" textLength="421.0" lengthAdjust="spacingAndGlyphs">If a person against Christian Baptism cannot conquer End Time to arrive here</text><text x="1652.6" y="450.4" font-size="15.00" fill="#000" textLength="232.3" lengthAdjust="spacingAndGlyphs">If You have close friends that love You, love</text><text x="1652.6" y="470.1" font-size="15.00" fill="#000" textLength="233.3" lengthAdjust="spacingAndGlyphs">them. If a person gives You gifts, love them.</text><text x="1426.0" y="516.1" font-size="13.60" fill="#880015" textLength="455.4" lengthAdjust="spacingAndGlyphs">"And if you are doing good to those who treat you well, what goodness do you have?</text><text x="1357.4" y="536.5" font-size="13.80" fill="#880015" textLength="46.5" lengthAdjust="spacingAndGlyphs">For even</text><text x="1357.4" y="556.2" font-size="13.80" fill="#880015" textLength="56.1" lengthAdjust="spacingAndGlyphs">sinners do</text><text x="1357.4" y="576.0" font-size="13.80" fill="#880015" textLength="46.5" lengthAdjust="spacingAndGlyphs">likewise."</text><text x="1357.4" y="595.8" font-size="13.80" fill="#880015" textLength="57.1" lengthAdjust="spacingAndGlyphs">(Luke 6.33</text><text x="1359.7" y="615.5" font-size="13.80" fill="#880015" textLength="50.0" lengthAdjust="spacingAndGlyphs">Aramaic)</text><text x="1517.7" y="589.9" font-size="12.50" fill="#22b14c" font-weight="bold" font-style="italic" textLength="224.1" lengthAdjust="spacingAndGlyphs">Aliens might not be aware of Your customs</text><text x="1517.7" y="608.0" font-size="12.50" fill="#22b14c" font-weight="bold" font-style="italic" textLength="167.7" lengthAdjust="spacingAndGlyphs">and traditions (Matthew 13.57).</text><text x="1770.1" y="575.8" font-size="14.60" fill="#000" textLength="51.1" lengthAdjust="spacingAndGlyphs">Missions:</text><text x="1770.1" y="595.3" font-size="14.60" fill="#000" textLength="97.5" lengthAdjust="spacingAndGlyphs">if someone needs</text><text x="1770.1" y="615.3" font-size="14.60" fill="#000" textLength="100.2" lengthAdjust="spacingAndGlyphs">help, pull them up,</text><text x="1509.8" y="686.4" font-size="15.00" fill="#000" textLength="215.8" lengthAdjust="spacingAndGlyphs">You might have to get down under them</text><text x="1509.8" y="705.8" font-size="15.00" fill="#000" textLength="253.0" lengthAdjust="spacingAndGlyphs">to free them from the tangle (Hebrews 2.7 &amp; 9).</text><text x="755.2" y="752.9" font-size="31.40" fill="#fff" textLength="1081.8" lengthAdjust="spacingAndGlyphs">"But love your enemies, do good to them, and lend to them without expecting to get anything</text><text x="755.2" y="789.9" font-size="31.40" fill="#fff" textLength="1094.2" lengthAdjust="spacingAndGlyphs">back. Then your reward will be great, and you will be children of the Most High, because he is</text><text x="755.2" y="826.7" font-size="31.40" fill="#fff" textLength="1119.1" lengthAdjust="spacingAndGlyphs">kind to the ungrateful and wicked. Be merciful, just as your Father is merciful." (Luke 6.35 &amp; 36).</text></g></svg>
</body></html>
